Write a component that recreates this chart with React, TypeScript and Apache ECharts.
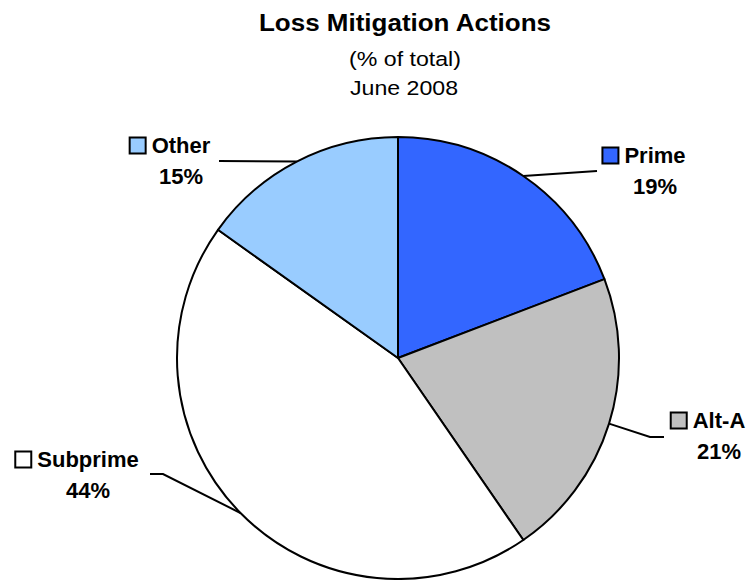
import React, { useEffect, useRef } from "react";
import * as echarts from "echarts";

const categories = ["Prime", "Alt-A", "Subprime", "Other"];
const values = [19, 21, 44, 15];
const colors = ["#3366FF", "#C0C0C0", "#FFFFFF", "#99CCFF"];

// label layout (positions only): centre of the name text, and label line bends
const labelCenters: number[][] = [
  [655, 171],
  [719, 436],
  [88, 475],
  [181, 161],
];
const labelBends: number[][][] = [
  [[597, 171], [597, 171]],
  [[650, 437], [664, 437]],
  [[163, 474], [150, 474]],
  [[219, 161], [219, 161]],
];

const FONT = "'Liberation Sans', Arial, Helvetica, sans-serif";
const SQ = 14;
const GAP = 7;
const KEY = SQ + GAP;

export default function App() {
  const ref = useRef<HTMLDivElement>(null);
  useEffect(() => {
    if (!ref.current) return;
    const chart = echarts.init(ref.current, null, { renderer: "svg" });
    const data = categories.map((name, i) => ({
      name,
      value: values[i],
      itemStyle: { color: colors[i] },
      label: {
        rich: {
          sq: {
            width: SQ,
            height: SQ,
            backgroundColor: colors[i],
            borderColor: "#000",
            borderWidth: 2,
          },
          gap: { width: GAP },
          name: { fontSize: 22, fontWeight: "bold", color: "#000", fontFamily: FONT, lineHeight: 31 },
          pct: {
            fontSize: 22,
            fontWeight: "bold",
            color: "#000",
            fontFamily: FONT,
            lineHeight: 31,
            padding: [0, 0, 0, KEY],
          },
        },
      },
    }));
    const titleStyle = (text: string, size: number, bold: boolean) => ({
      text,
      fontSize: size,
      fontWeight: bold ? "bold" : "normal",
      fontFamily: FONT,
      fill: "#000",
      align: "center",
      verticalAlign: "middle",
    });
    chart.setOption({
      animation: false,
      backgroundColor: "#ffffff",
      graphic: [
        {
          type: "text",
          x: 405,
          y: 23,
          scaleX: 1.13,
          style: titleStyle("Loss Mitigation Actions", 23, true),
        },
        {
          type: "text",
          x: 405,
          y: 59,
          scaleX: 1.13,
          style: titleStyle("(% of total)", 20.5, false),
        },
        {
          type: "text",
          x: 404,
          y: 88,
          scaleX: 1.13,
          style: titleStyle("June 2008", 20.5, false),
        },
      ],
      series: [
        {
          type: "pie",
          center: [398, 358],
          radius: 221,
          startAngle: 90,
          clockwise: true,
          itemStyle: { borderColor: "#000", borderWidth: 2 },
          emphasis: { disabled: true },
          label: {
            show: true,
            position: "outside",
            align: "center",
            overflow: "none",
            formatter: (p: any) => `{sq| }{gap| }{name|${p.name}}\n{pct|${p.value}%}`,
          },
          labelLine: {
            show: true,
            length: 20,
            length2: 20,
            lineStyle: { color: "#000", width: 2 },
          },
          labelLayout: (params: any) => {
            const i = params.dataIndex;
            const start = params.labelLinePoints ? params.labelLinePoints[0] : labelBends[i][0];
            return {
              x: labelCenters[i][0] - KEY / 2,
              y: labelCenters[i][1],
              align: "center",
              verticalAlign: "middle",
              labelLinePoints: [start, labelBends[i][0], labelBends[i][1]],
            };
          },
          data,
        },
      ],
    });
    return () => chart.dispose();
  }, []);
  return (
    <div
      ref={ref}
      style={{ position: "absolute", left: 0, top: 0, width: 748, height: 580 }}
    />
  );
}
